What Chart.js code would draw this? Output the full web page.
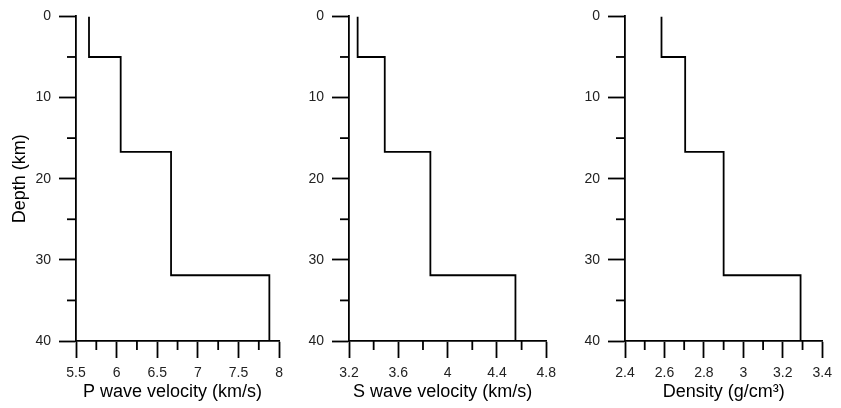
<!DOCTYPE html>
<html><head><meta charset="utf-8">
<script src="https://cdn.jsdelivr.net/npm/chart.js@4.4.1/dist/chart.umd.min.js"></script>
<style>
html,body{margin:0;padding:0;background:#fff;width:841px;height:408px;overflow:hidden;}
.panel{position:absolute;top:0;width:290px;height:408px;}
</style></head><body>
<div class="panel" style="left:0px"><canvas id="c1" width="290" height="408"></canvas></div>
<div class="panel" style="left:273px"><canvas id="c2" width="290" height="408"></canvas></div>
<div class="panel" style="left:549px"><canvas id="c3" width="290" height="408"></canvas></div>
<script>
// ---- data ----
const layerTops = [0, 5, 16.7, 31.9];   // depth of top of each layer (km)
const modelBottom = 40;                  // km
const vp = [5.66, 6.05, 6.67, 7.88];     // P wave velocity (km/s)
const vs = [3.27, 3.49, 3.86, 4.55];     // S wave velocity (km/s)
const density = [2.585, 2.705, 2.90, 3.29]; // g/cm3

const depthTickLabels = ['0', '10', '20', '30', '40'];
const vpTickLabels = ['5.5', '6', '6.5', '7', '7.5', '8'];
const vsTickLabels = ['3.2', '3.6', '4', '4.4', '4.8'];
const rhoTickLabels = ['2.4', '2.6', '2.8', '3', '3.2', '3.4'];

const FONT = "'Liberation Sans', Arial, sans-serif";
const LW = 1.8;

function stepProfile(values) {
  const pts = [];
  values.forEach((v, i) => {
    const top = layerTops[i];
    const bot = i + 1 < layerTops.length ? layerTops[i + 1] : modelBottom;
    pts.push({x: v, y: top});
    pts.push({x: v, y: bot});
  });
  return pts;
}

const minorTicks = {
  id: 'minorTicks',
  afterDraw(chart) {
    const ctx = chart.ctx;
    ctx.save();
    ctx.strokeStyle = '#000';
    ctx.lineWidth = LW;
    const xs = chart.scales.x, ys = chart.scales.y;
    xs.ticks.forEach((t, i) => {
      if (i % 2 === 1) {
        const px = xs.getPixelForValue(t.value);
        ctx.beginPath(); ctx.moveTo(px, xs.top); ctx.lineTo(px, xs.top + 9); ctx.stroke();
      }
    });
    ys.ticks.forEach((t, i) => {
      if (i % 2 === 1) {
        const py = ys.getPixelForValue(t.value);
        ctx.beginPath(); ctx.moveTo(ys.right, py); ctx.lineTo(ys.right - 9, py); ctx.stroke();
      }
    });
    ctx.restore();
  }
};

function makeChart(id, values, xmin, xmax, xstep, xLabels, xTitle, showYTitle) {
  const majorColor = (c) => (c.index % 2 === 0 ? '#000' : 'rgba(0,0,0,0)');
  return new Chart(document.getElementById(id), {
    type: 'scatter',
    data: {
      datasets: [{
        data: stepProfile(values),
        showLine: true,
        borderColor: '#000',
        borderWidth: LW,
        pointRadius: 0,
        tension: 0,
        fill: false
      }]
    },
    options: {
      responsive: false,
      animation: false,
      devicePixelRatio: 1,
      layout: {padding: {top: 15, right: 10, bottom: 0, left: 0}},
      plugins: {legend: {display: false}, tooltip: {enabled: false}},
      scales: {
        x: {
          type: 'linear', position: 'bottom', min: xmin, max: xmax,
          ticks: {
            stepSize: xstep, autoSkip: false, maxRotation: 0, padding: 7,
            color: '#222', font: {family: FONT, size: 14},
            callback: (v, i) => (i % 2 === 0 ? xLabels[i / 2] : '')
          },
          grid: {drawOnChartArea: false, drawTicks: true, tickLength: 17, tickWidth: LW, tickColor: majorColor},
          border: {display: true, color: '#000', width: LW},
          title: {display: true, text: xTitle, color: '#000', font: {family: FONT, size: 18}, padding: {top: 0, bottom: 5}},
          afterFit: (s) => { s.height = 67; }
        },
        y: {
          type: 'linear', reverse: true, min: 0, max: modelBottom,
          ticks: {
            stepSize: 5, autoSkip: false, padding: 8,
            color: '#222', font: {family: FONT, size: 14},
            callback: (v) => (v % 10 === 0 ? depthTickLabels[v / 10] : '')
          },
          grid: {drawOnChartArea: false, drawTicks: true, tickLength: 17, tickWidth: LW, tickColor: majorColor},
          border: {display: true, color: '#000', width: LW},
          title: {display: showYTitle, text: 'Depth (km)', color: '#000', font: {family: FONT, size: 18}, padding: {top: 9, bottom: 0}},
          afterFit: (s) => { s.width = 76; }
        }
      }
    },
    plugins: [minorTicks]
  });
}

makeChart('c1', vp, 5.5, 8, 0.25, vpTickLabels, 'P wave velocity (km/s)  ', true);
makeChart('c2', vs, 3.2, 4.8, 0.2, vsTickLabels, 'S wave velocity (km/s)  ', false);
makeChart('c3', density, 2.4, 3.4, 0.1, rhoTickLabels, 'Density (g/cm³)', false);
</script>
</body></html>
